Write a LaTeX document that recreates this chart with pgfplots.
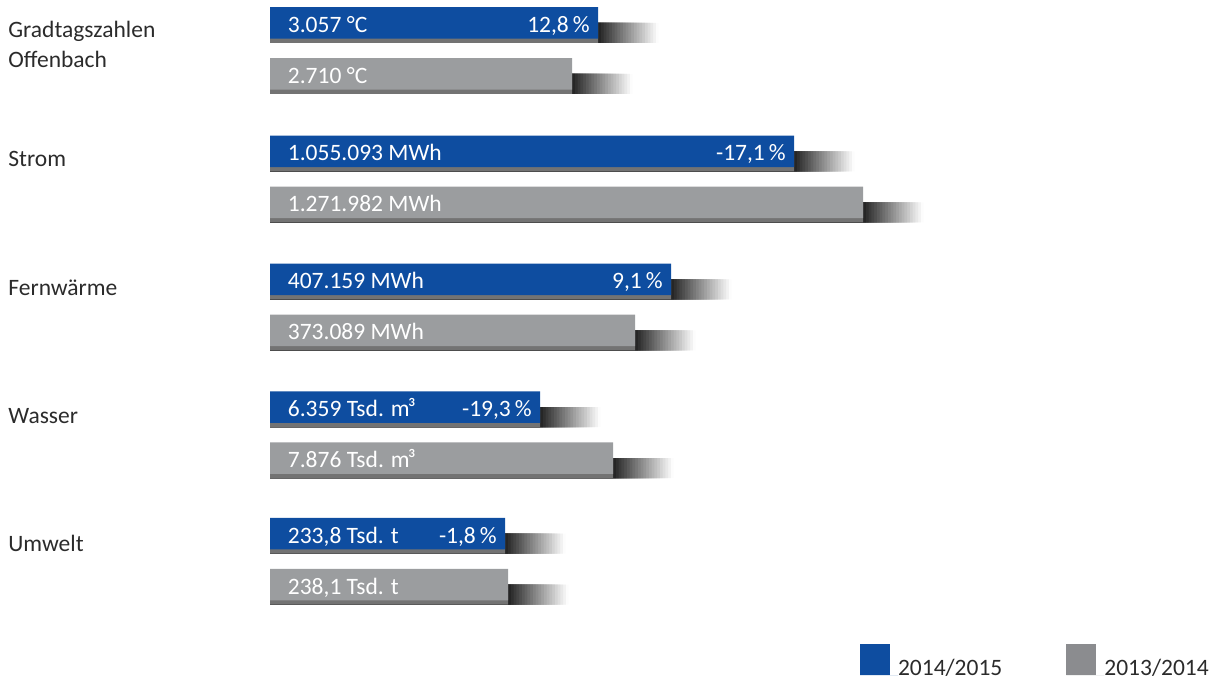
\documentclass[border=0pt]{standalone}
\usepackage{fontspec}
\setmainfont{Carlito}
\usepackage{pgfplots}
\pgfplotsset{compat=1.18}
\usepackage{pgfplotstable}
\definecolor{barblue}{HTML}{0E4DA0}
\definecolor{bargrey}{HTML}{9B9D9F}
\definecolor{leggrey}{HTML}{8B8C8F}
\definecolor{txt}{HTML}{2B2B2B}

% y = group centre (px from top); cur = 2014/2015 bar length, prev = 2013/2014 bar length (px)
\pgfplotstableread{
y      cur  prev  pct
48.5   328  302   12,8
177    524  593   -17,1
305    401  365   9,1
432.5  270  343   -19,3
559    235  238   -1,8
}\data

\pgfplotsset{base/.style={
  scale only axis, width=608pt, height=339.5pt,
  at={(0pt,0pt)}, anchor=south west,
  xmin=-270, xmax=946, ymin=0, ymax=679, y dir=reverse,
  axis lines=none, ticks=none, clip=false,
}}

\begin{document}
\begin{tikzpicture}[font=\fontsize{11.75pt}{14pt}\selectfont]
\useasboundingbox (0,0) rectangle (608pt,339.5pt);
% soft shadows: overlapping bars, lightest (longest) first, darkest (shortest) last
\begin{axis}[base, xbar, bar width=20]
\pgfplotsinvokeforeach{1,5,...,85}{
  \addplot[draw=none, fill=black!#1, bar shift=-15.5] table[x expr=\thisrow{cur}+61.1875-0.6875*#1, y=y]{\data};
  \addplot[draw=none, fill=black!#1, bar shift=35.5] table[x expr=\thisrow{prev}+61.1875-0.6875*#1, y=y]{\data};
}
\addplot[draw=none, fill=black!55, bar shift=-15.5] table[x=cur, y=y]{\data};
\addplot[draw=none, fill=black!55, bar shift=35.5] table[x=prev, y=y]{\data};
\end{axis}
% bars
\begin{axis}[base, xbar, bar width=31.5,
  legend columns=2,
  legend image code/.code={\fill[#1] (0pt,0pt) rectangle (15pt,15.5pt); \path[draw=none] (0pt,0pt) -- (19pt,0pt);},
  legend style={draw=none, fill=none, inner sep=0pt, outer sep=0pt,
    at={(axis cs:590,644)}, anchor=north west,
    cells={anchor=base west},
    nodes={inner sep=0pt, text=txt},
    /tikz/every even column/.append style={column sep=32pt}}]
\addplot[draw=none, fill=barblue, bar shift=-25.5,
  point meta=explicit symbolic,
  nodes near coords={\pgfplotspointmeta\,\%},
  nodes near coords style={anchor=base east, text=white, xshift=-4pt, yshift=-4.75pt, inner sep=0pt}]
  table[x=cur, y=y, meta=pct]{\data};
\addlegendentry{2014/2015}
\addplot[draw=none, fill=bargrey, bar shift=25.5, legend image post style={fill=leggrey}] table[x=prev, y=y]{\data};
\addlegendentry{2013/2014}
% value labels inside the bars
\begin{scope}[every node/.style={anchor=base west, text=white, inner sep=0pt}]
\node at (axis cs:17.5,32.5) {3.057 °C};
\node at (axis cs:17.5,83.5) {2.710 °C};
\node at (axis cs:17.5,161) {1.055.093 MWh};
\node at (axis cs:17.5,212) {1.271.982 MWh};
\node at (axis cs:17.5,289) {407.159 MWh};
\node at (axis cs:17.5,340) {373.089 MWh};
\node at (axis cs:17.5,416.5) {6.359 Tsd. m\kern-1pt³};
\node at (axis cs:17.5,467.5) {7.876 Tsd. m\kern-1pt³};
\node at (axis cs:17.5,543) {233,8 Tsd. t};
\node at (axis cs:17.5,594) {238,1 Tsd. t};
\end{scope}
% category labels
\begin{scope}[every node/.style={anchor=base west, text=txt, inner sep=0pt}]
\node at (axis cs:-262,38) {Gradtagszahlen};
\node at (axis cs:-262,68) {Offenbach};
\node at (axis cs:-262,167) {Strom};
\node at (axis cs:-262,296) {Fernwärme};
\node at (axis cs:-262,423) {Wasser};
\node at (axis cs:-262,551) {Umwelt};
\end{scope}
\end{axis}
\end{tikzpicture}
\end{document}
